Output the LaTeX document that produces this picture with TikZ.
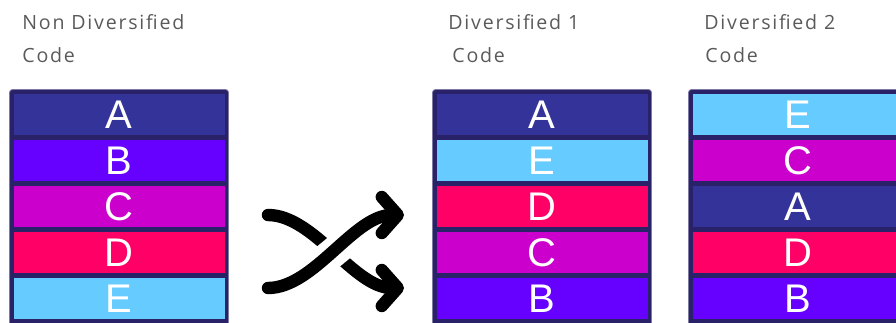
\documentclass[tikz,border=0pt]{standalone}
\usepackage{fontspec}
\setmainfont{Liberation Sans}
\newfontfamily\labelfont[LetterSpace=9]{Open Sans}
\usetikzlibrary{positioning,arrows.meta}
\definecolor{codenavy}{RGB}{42,34,104}
\definecolor{codegray}{RGB}{90,90,90}
\definecolor{bandA}{RGB}{51,51,153}
\definecolor{bandB}{RGB}{102,0,255}
\definecolor{bandC}{RGB}{204,0,204}
\definecolor{bandD}{RGB}{255,0,102}
\definecolor{bandE}{RGB}{102,204,255}

\begin{document}
\begin{tikzpicture}[x=0.5pt, y=-0.5pt,
  frame/.style={fill=codenavy, draw=codenavy!60!white, line width=0.4pt, rounded corners=1.5pt},
  band/.style={minimum width=105.5pt, minimum height=20.5pt, inner sep=0pt, outer sep=0pt, text=white, font=\fontsize{20}{20}\selectfont},
  lbl/.style={anchor=base west, inner sep=0pt, text=codegray, font=\labelfont\fontsize{9.8}{11}\selectfont},
  shuffle/.style={line width=6.2pt, line cap=round, -{Straight Barb[length=8pt, width=18pt, round]}}]
\useasboundingbox (0,0) rectangle (896,322);
\clip (0,0) rectangle (896,322);

% labels
\node[lbl] (t1) at (22,29) {Non Diversified};
\node[lbl] (t1b) at (22,62) {Code};
\node[lbl] (t2) at (448,29) {Diversified 1};
\node[lbl] (t2b) at (452,62) {Code};
\node[lbl] (t3) at (704,29) {Diversified 2};
\node[lbl] (t3b) at (705,62) {Code};

% non diversified code
\draw[frame] (9.5,89.5) rectangle (228.5,330);
\node[band, fill=bandA] (a1) at (119,114.5) {A};
\node[band, fill=bandB, below=2.5pt of a1] (b1) {B};
\node[band, fill=bandC, below=2.5pt of b1] (c1) {C};
\node[band, fill=bandD, below=2.5pt of c1] (d1) {D};
\node[band, fill=bandE, below=2.5pt of d1] (e1) {E};

% diversified 1
\draw[frame] (432.5,89.5) rectangle (651.5,330);
\node[band, fill=bandA] (a2) at (542,114.5) {A};
\node[band, fill=bandE, below=2.5pt of a2] (e2) {E};
\node[band, fill=bandD, below=2.5pt of e2] (d2) {D};
\node[band, fill=bandC, below=2.5pt of d2] (c2) {C};
\node[band, fill=bandB, below=2.5pt of c2] (b2) {B};

% diversified 2
\draw[frame] (688.5,89.5) rectangle (907.5,330);
\node[band, fill=bandE] (e3) at (798,114.5) {E};
\node[band, fill=bandC, below=2.5pt of e3] (c3) {C};
\node[band, fill=bandA, below=2.5pt of c3] (a3) {A};
\node[band, fill=bandD, below=2.5pt of a3] (d3) {D};
\node[band, fill=bandB, below=2.5pt of d3] (b3) {B};

% shuffle sign
\draw[shuffle] (268,215) .. controls (314,215) and (354,288) .. (404,288);
\draw[white, line width=15pt] (268,288) .. controls (314,288) and (354,215) .. (404,215);
\draw[shuffle] (268,288) .. controls (314,288) and (354,215) .. (404,215);
\end{tikzpicture}
\end{document}
